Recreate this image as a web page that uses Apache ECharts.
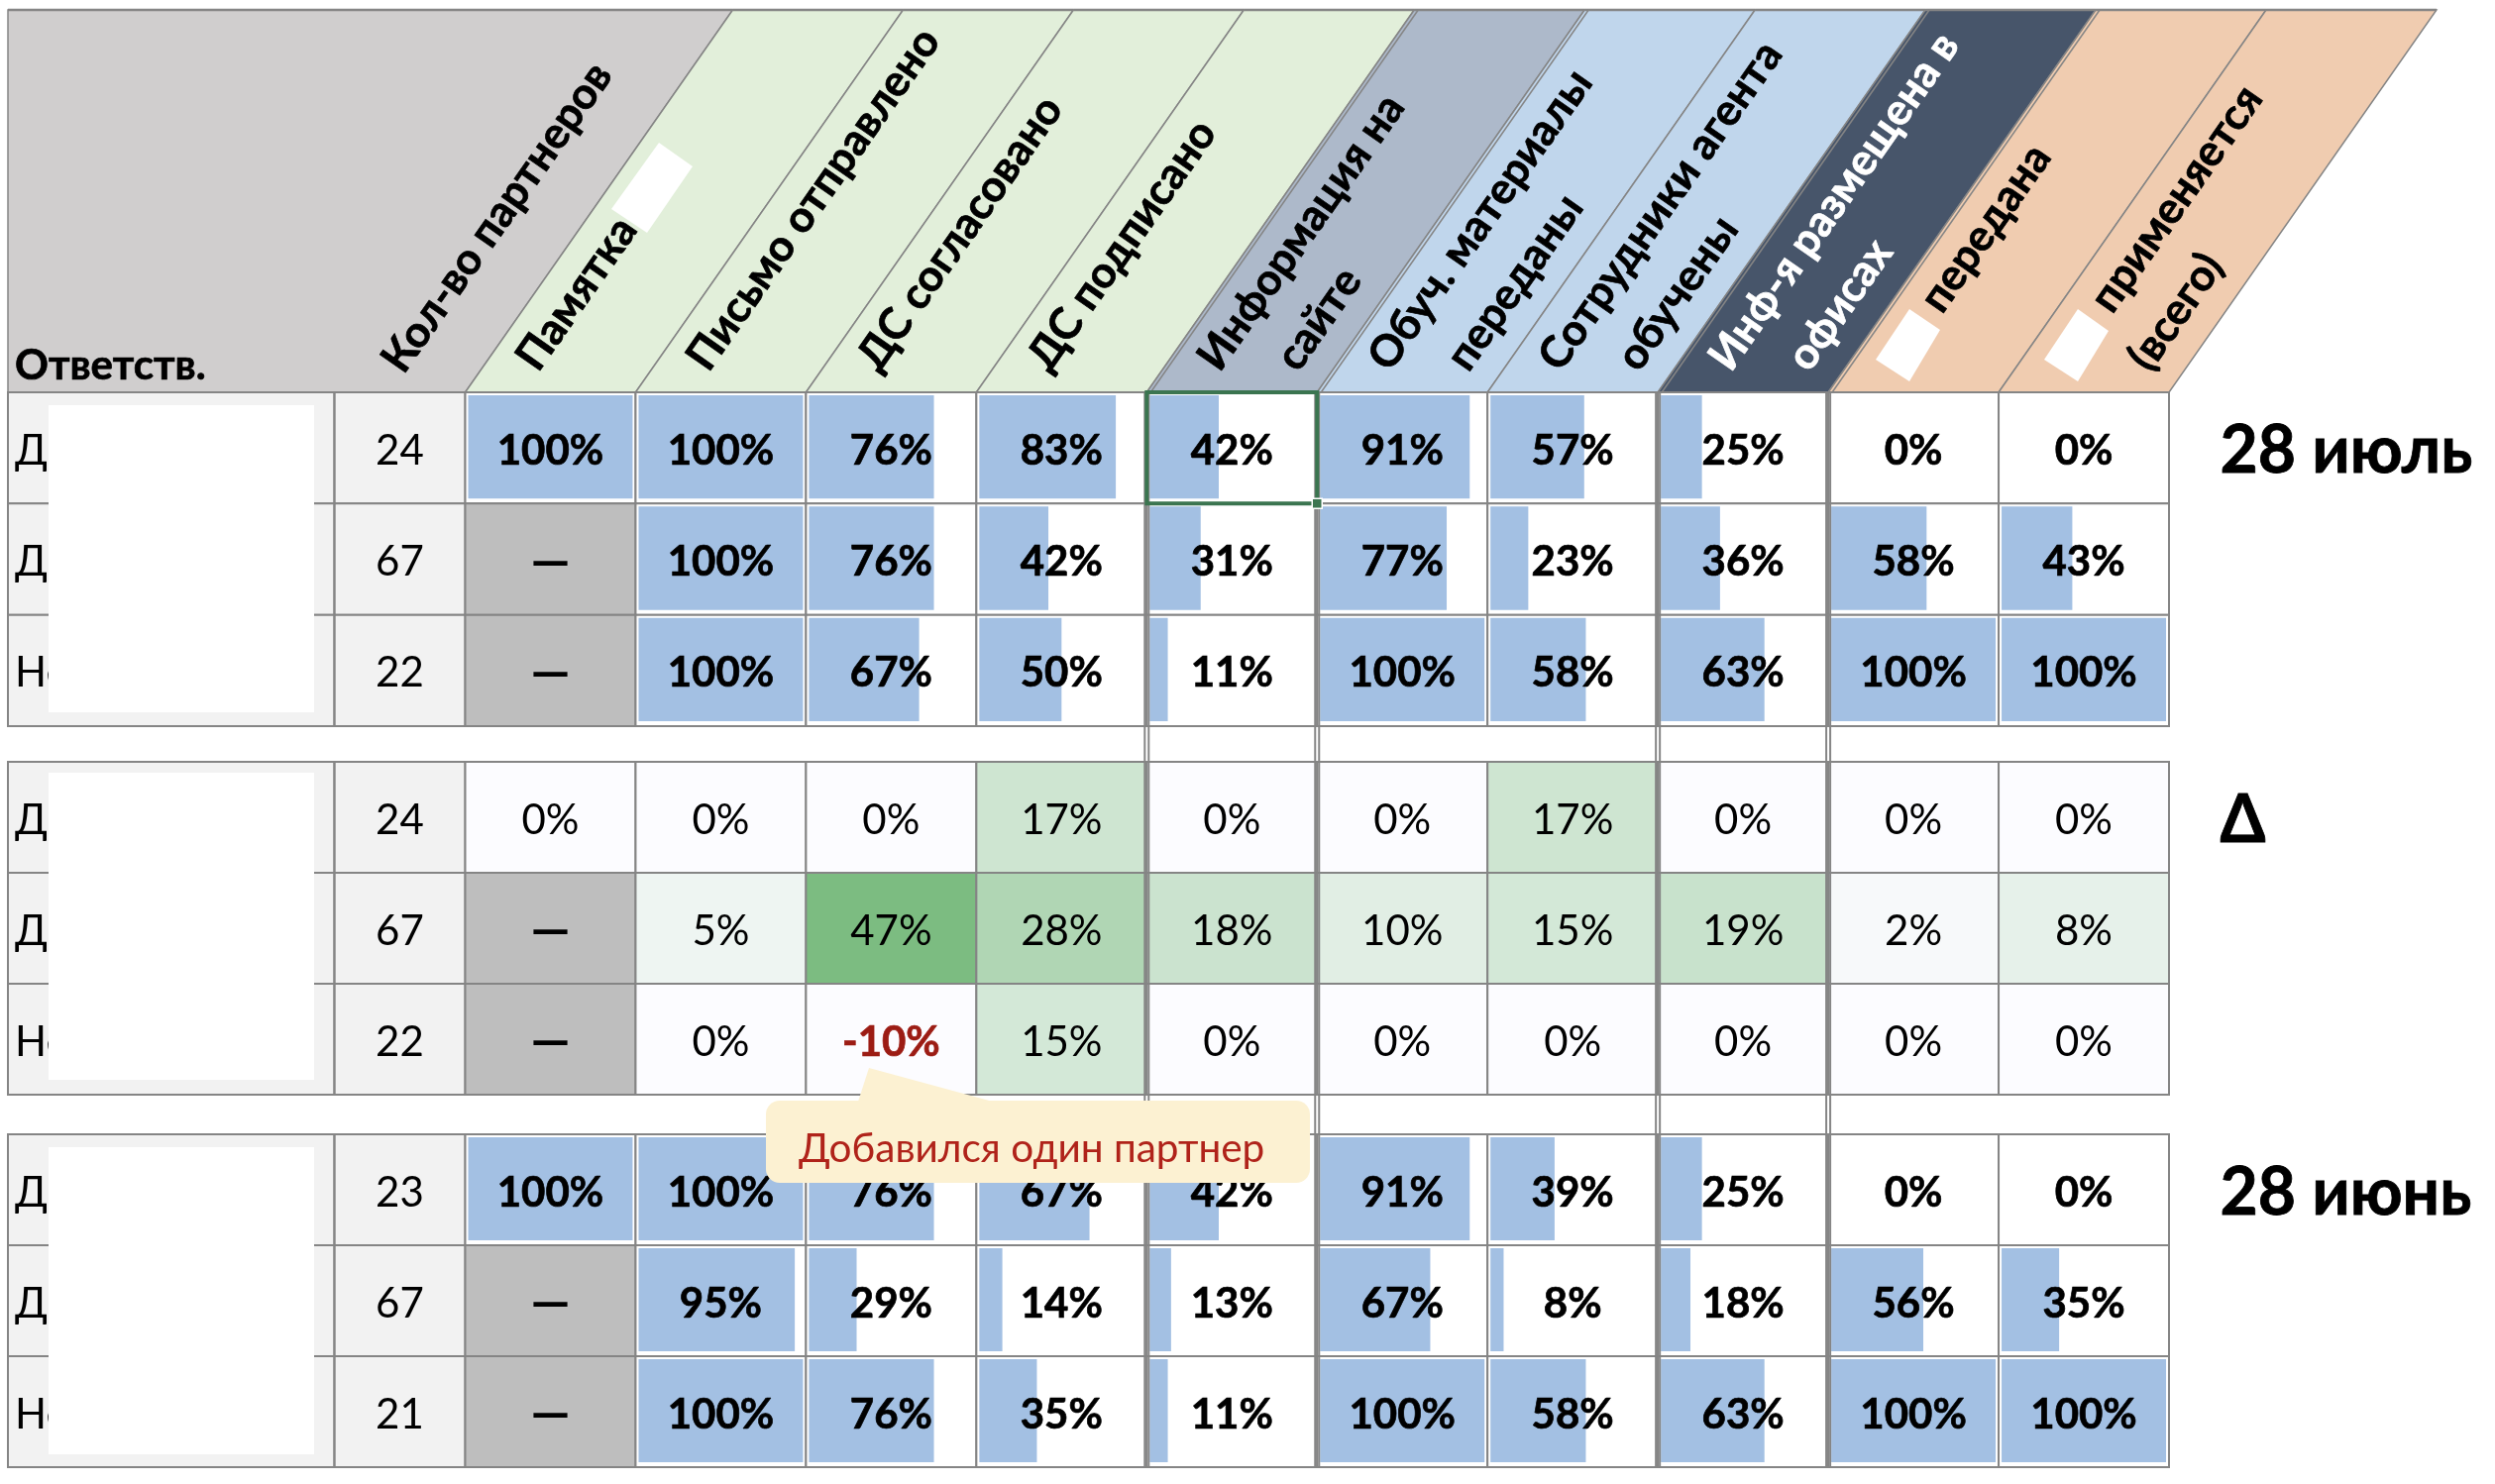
<!DOCTYPE html>
<html lang="ru">
<head>
<meta charset="utf-8">
<title>Партнеры</title>
<style>
  html, body { margin: 0; padding: 0; background: #fff; }
  #chart { width: 2518px; height: 1498px; }
</style>
<script src="https://cdn.jsdelivr.net/npm/echarts@6/dist/echarts.min.js"></script>
</head>
<body>
<div id="chart"></div>
<script>
const ownerTitle = 'Ответств.';
const countTitle = 'Кол-во партнеров';
const headerLines = [
  ['Памятка'],
  ['Письмо отправлено'],
  ['ДС согласовано'],
  ['ДС подписано'],
  ['Информация на', 'сайте'],
  ['Обуч. материалы', 'переданы'],
  ['Сотрудники агента', 'обучены'],
  ['Инф-я размещена в', 'офисах'],
  ['передана'],
  ['применяется', '(всего)'],
];
const owners = ['Д', 'Д', 'Не'];

const julyTitle = '28 июль';
const julyCounts = [24, 67, 22];
const julyValues = [
  [100, 100, 76, 83, 42, 91, 57, 25, 0, 0],
  [null, 100, 76, 42, 31, 77, 23, 36, 58, 43],
  [null, 100, 67, 50, 11, 100, 58, 63, 100, 100],
];
const deltaTitle = 'Δ';
const deltaCounts = [24, 67, 22];
const deltaValues = [
  [0, 0, 0, 17, 0, 0, 17, 0, 0, 0],
  [null, 5, 47, 28, 18, 10, 15, 19, 2, 8],
  [null, 0, -10, 15, 0, 0, 0, 0, 0, 0],
];
const juneTitle = '28 июнь';
const juneCounts = [23, 67, 21];
const juneValues = [
  [100, 100, 76, 67, 42, 91, 39, 25, 0, 0],
  [null, 95, 29, 14, 13, 67, 8, 18, 56, 35],
  [null, 100, 76, 35, 11, 100, 58, 63, 100, 100],
];
const calloutText = 'Добавился один партнер';
const sectionColumns = [4, 5, 7, 8];
const selectedCell = [4, 0];

// x axis unit = one data column; the two left columns sit below zero
const OWNER_X = -2.684;
const COUNT_X = -0.768;
const SKEW = 1.57;
const FONT = 'Lato, "Noto Sans", sans-serif';
const LINE = '#858585';
const headerFill = ['#e2efda', '#e2efda', '#e2efda', '#e2efda', '#adb9ca', '#c0d6ec', '#c0d6ec', '#47556a', '#f0ccb0', '#f0ccb0'];
const headerInk = ['#000', '#000', '#000', '#000', '#000', '#000', '#000', '#fff', '#000', '#000'];
const headerLead = [0, 0, 0, 0, 0, 0, 0, 0, 72, 72];

const chart = echarts.init(document.getElementById('chart'), null, { renderer: 'canvas' });

function xAxisFor(i) {
  return { gridIndex: i, type: 'value', min: OWNER_X, max: 10, show: false };
}

function rowAxisFor(i) {
  return { gridIndex: i, type: 'category', data: [0, 1, 2], inverse: true, show: false };
}

function cellBox(api, x0, x1, row) {
  const left = api.coord([x0, row]);
  const right = api.coord([x1, row]);
  const h = api.size([0, 1])[1];
  return { x: left[0], y: left[1] - h / 2, width: right[0] - left[0], height: h };
}

function lineRect(box) {
  return { type: 'rect', shape: box, style: { fill: 'none', stroke: LINE, lineWidth: 2 } };
}

function cellText(box, text, weight, color) {
  return {
    type: 'text',
    style: {
      x: box.x + box.width / 2, y: box.y + box.height / 2 + 3, text: text,
      align: 'center', verticalAlign: 'middle', fill: color || '#000',
      font: weight + ' 42px ' + FONT,
      stroke: weight === 700 ? (color || '#000') : null,
      lineWidth: weight === 700 ? 0.7 : 0,
    },
  };
}

function dashText(box) {
  return {
    type: 'text',
    style: {
      x: box.x + box.width / 2, y: box.y + box.height / 2 + 3, text: '—',
      align: 'center', verticalAlign: 'middle', fill: '#000', font: '900 50px ' + FONT,
    },
  };
}

function renderLeft(params, api) {
  const row = api.value(0);
  const ownerBox = cellBox(api, OWNER_X, COUNT_X, row);
  const countBox = cellBox(api, COUNT_X, 0, row);
  const name = owners[row];
  return {
    type: 'group',
    children: [
      { type: 'rect', shape: ownerBox, style: { fill: '#f2f2f2' } },
      { type: 'rect', shape: countBox, style: { fill: '#f2f2f2' } },
      lineRect(ownerBox),
      lineRect(countBox),
      {
        type: 'text',
        style: {
          x: ownerBox.x + 7, y: ownerBox.y + ownerBox.height / 2 + 3, text: name,
          align: 'left', verticalAlign: 'middle', fill: '#000', font: '400 42px ' + FONT,
        },
      },
      cellText(countBox, String(api.value(1)), 400),
    ],
  };
}

function renderBars(params, api) {
  const col = api.value(0);
  const row = api.value(1);
  const v = api.value(2);
  const box = cellBox(api, col, col + 1, row);
  const children = [];
  if (isNaN(v)) {
    children.push({ type: 'rect', shape: box, style: { fill: '#bebebe' } });
  } else {
    children.push({ type: 'rect', shape: box, style: { fill: '#fff' } });
    if (v > 0) {
      children.push({
        type: 'rect',
        shape: { x: box.x + 3, y: box.y + 3, width: (box.width - 6) * v / 100, height: box.height - 8 },
        style: { fill: '#a3c0e3' },
      });
    }
  }
  children.push(lineRect(box));
  children.push(isNaN(v) ? dashText(box) : cellText(box, v + '%', 700));
  return { type: 'group', children: children };
}

function renderDelta(params, api) {
  const col = api.value(0);
  const row = api.value(1);
  const v = api.value(2);
  const box = cellBox(api, col, col + 1, row);
  const fill = isNaN(v) ? '#bebebe' : api.visual('color');
  const negative = v < 0;
  return {
    type: 'group',
    children: [
      { type: 'rect', shape: box, style: { fill: fill } },
      lineRect(box),
      isNaN(v) ? dashText(box) : cellText(box, v + '%', negative ? 700 : 400, negative ? '#9c1c14' : '#000'),
    ],
  };
}

function renderTitle(params, api) {
  const p = api.coord([api.value(0), 0]);
  return {
    type: 'text',
    style: {
      x: p[0], y: p[1] + 4, text: params.seriesName, align: 'left', verticalAlign: 'middle',
      fill: '#000', font: '700 66px ' + FONT, stroke: '#000', lineWidth: 0.8,
    },
  };
}

function slantText(api, x, y, text, color, along) {
  const a = 55 * Math.PI / 180;
  const p = api.coord([x, y]);
  return {
    type: 'text',
    x: p[0] + along * Math.cos(a),
    y: p[1] - along * Math.sin(a),
    rotation: a,
    style: {
      x: 0, y: 0, text: text, align: 'left', verticalAlign: 'middle', fill: color,
      font: '700 44px ' + FONT, stroke: color, lineWidth: 0.7,
    },
  };
}

function band(api, x0, x1, fill) {
  const bl = api.coord([x0, 0]);
  const br = api.coord([x1, 0]);
  const tl = api.coord([x0 + SKEW, 1]);
  const tr = api.coord([x1 + SKEW, 1]);
  return {
    type: 'group',
    children: [
      { type: 'polygon', shape: { points: [bl, br, tr, tl] }, style: { fill: fill, stroke: LINE, lineWidth: 1.5 } },
      { type: 'line', shape: { x1: tl[0], y1: tl[1], x2: tr[0], y2: tr[1] }, style: { stroke: LINE, lineWidth: 2.5 } },
    ],
  };
}

function renderHeader(params, api) {
  const col = api.value(0);
  const children = [band(api, col, col + 1, headerFill[col])];
  if (sectionColumns.indexOf(col) >= 0) {
    const b = api.coord([col, 0]);
    const t = api.coord([col + SKEW, 1]);
    children.push({
      type: 'line',
      shape: { x1: b[0] + 4, y1: b[1], x2: t[0] + 4, y2: t[1] },
      style: { stroke: LINE, lineWidth: 1.5 },
    });
  }
  headerLines[col].forEach(function (line, i) {
    const along = i === 0 ? headerLead[col] : 0;
    children.push(slantText(api, col + 0.36 + i * 0.46, 0.07, line, headerInk[col], along));
  });
  return { type: 'group', children: children };
}

function renderHeaderLeft(params, api) {
  const bl = api.coord([OWNER_X, 0]);
  const br = api.coord([0, 0]);
  const tl = api.coord([OWNER_X, 1]);
  const tr = api.coord([SKEW, 1]);
  const ownerAt = api.coord([OWNER_X, 0.07]);
  return {
    type: 'group',
    children: [
      { type: 'polygon', shape: { points: [bl, br, tr, tl] }, style: { fill: '#d0cece', stroke: LINE, lineWidth: 1.5 } },
      { type: 'line', shape: { x1: tl[0], y1: tl[1], x2: tr[0], y2: tr[1] }, style: { stroke: LINE, lineWidth: 2.5 } },
      slantText(api, -0.43, 0.065, countTitle, '#000', 0),
      {
        type: 'text',
        style: {
          x: ownerAt[0] + 7, y: ownerAt[1], text: ownerTitle, align: 'left', verticalAlign: 'middle',
          fill: '#000', font: '700 42px ' + FONT, stroke: '#000', lineWidth: 0.7,
        },
      },
    ],
  };
}

function renderSection(params, api) {
  const top = api.coord([api.value(0), 1]);
  const bottom = api.coord([api.value(0), 0]);
  return {
    type: 'group',
    children: [-2, 2].map(function (dx) {
      return {
        type: 'line',
        shape: { x1: top[0] + dx, y1: top[1], x2: bottom[0] + dx, y2: bottom[1] },
        style: { stroke: LINE, lineWidth: 2 },
      };
    }),
  };
}

function renderSelected(params, api) {
  const box = cellBox(api, api.value(0), api.value(0) + 1, api.value(1));
  return {
    type: 'group',
    children: [
      { type: 'rect', shape: box, style: { fill: 'none', stroke: '#3b7550', lineWidth: 4 } },
      {
        type: 'rect',
        shape: { x: box.x + box.width - 5, y: box.y + box.height - 5, width: 10, height: 10 },
        style: { fill: '#3b7550', stroke: '#fff', lineWidth: 1.5 },
      },
    ],
  };
}

function cellData(values) {
  const out = [];
  values.forEach(function (row, r) {
    row.forEach(function (v, c) {
      out.push([c, r, v === null ? '-' : v]);
    });
  });
  return out;
}

function leftData(counts) {
  return counts.map(function (n, r) { return [r, n]; });
}

function custom(grid, renderItem, data, extra) {
  return Object.assign({
    type: 'custom',
    coordinateSystem: 'cartesian2d',
    xAxisIndex: grid,
    yAxisIndex: grid,
    renderItem: renderItem,
    data: data,
    silent: true,
    clip: false,
    z: 2,
  }, extra || {});
}

const redactions = [
  { type: 'rect', shape: { x: 49, y: 409, width: 268, height: 310 } },
  { type: 'rect', shape: { x: 49, y: 780, width: 268, height: 310 } },
  { type: 'rect', shape: { x: 49, y: 1158, width: 268, height: 310 } },
  { type: 'polygon', shape: { points: [[665, 144], [699, 168], [653, 235], [617, 211]] } },
  { type: 'polygon', shape: { points: [[1927, 312], [1958, 333], [1927, 385], [1893, 363]] } },
  { type: 'polygon', shape: { points: [[2097, 312], [2128, 334], [2097, 385], [2063, 363]] } },
].map(function (el) {
  return Object.assign(el, { z: 50, silent: true, style: { fill: '#fff' } });
});

const callout = [
  { type: 'polygon', z: 60, silent: true, shape: { points: [[877, 1078], [1002, 1112], [866, 1112]] }, style: { fill: '#fcf1d2' } },
  { type: 'rect', z: 60, silent: true, shape: { x: 773, y: 1111, width: 549, height: 83, r: 14 }, style: { fill: '#fcf1d2' } },
  {
    type: 'text', z: 61, silent: true, x: 806, y: 1160,
    style: { text: calloutText, fill: '#b0231a', font: '400 40.5px ' + FONT, textAlign: 'left', textVerticalAlign: 'middle' },
  },
];

const option = {
  animation: false,
  backgroundColor: '#fff',
  grid: [
    { left: 8, top: 10, width: 2181, height: 386 },
    { left: 8, top: 396, width: 2181, height: 337 },
    { left: 8, top: 769, width: 2181, height: 336 },
    { left: 8, top: 1145, width: 2181, height: 336 },
    { left: 8, top: 396, width: 2181, height: 1085 },
  ],
  xAxis: [xAxisFor(0), xAxisFor(1), xAxisFor(2), xAxisFor(3), xAxisFor(4)],
  yAxis: [
    { gridIndex: 0, type: 'value', min: 0, max: 1, show: false },
    rowAxisFor(1),
    rowAxisFor(2),
    rowAxisFor(3),
    { gridIndex: 4, type: 'value', min: 0, max: 1, show: false },
  ],
  visualMap: {
    show: false,
    seriesIndex: 6,
    dimension: 2,
    min: 0,
    max: 47,
    inRange: { color: ['#fcfcff', '#7cbc81'] },
  },
  series: [
    custom(0, renderHeaderLeft, [[0, 0]]),
    custom(0, renderHeader, headerLines.map(function (l, i) { return [i, 0]; })),
    custom(1, renderLeft, leftData(julyCounts), { encode: { x: -1, y: 0 } }),
    custom(2, renderLeft, leftData(deltaCounts), { encode: { x: -1, y: 0 } }),
    custom(3, renderLeft, leftData(juneCounts), { encode: { x: -1, y: 0 } }),
    custom(1, renderBars, cellData(julyValues)),
    custom(2, renderDelta, cellData(deltaValues)),
    custom(3, renderBars, cellData(juneValues)),
    custom(4, renderSection, sectionColumns.map(function (c) { return [c, 0]; }), { z: 3 }),
    custom(1, renderSelected, [selectedCell], { z: 4 }),
    custom(1, renderTitle, [[10.3, 0]], { name: julyTitle }),
    custom(2, renderTitle, [[10.3, 0]], { name: deltaTitle }),
    custom(3, renderTitle, [[10.3, 0]], { name: juneTitle }),
  ],
  graphic: { elements: redactions.concat(callout) },
};

chart.setOption(option);
</script>
</body>
</html>
